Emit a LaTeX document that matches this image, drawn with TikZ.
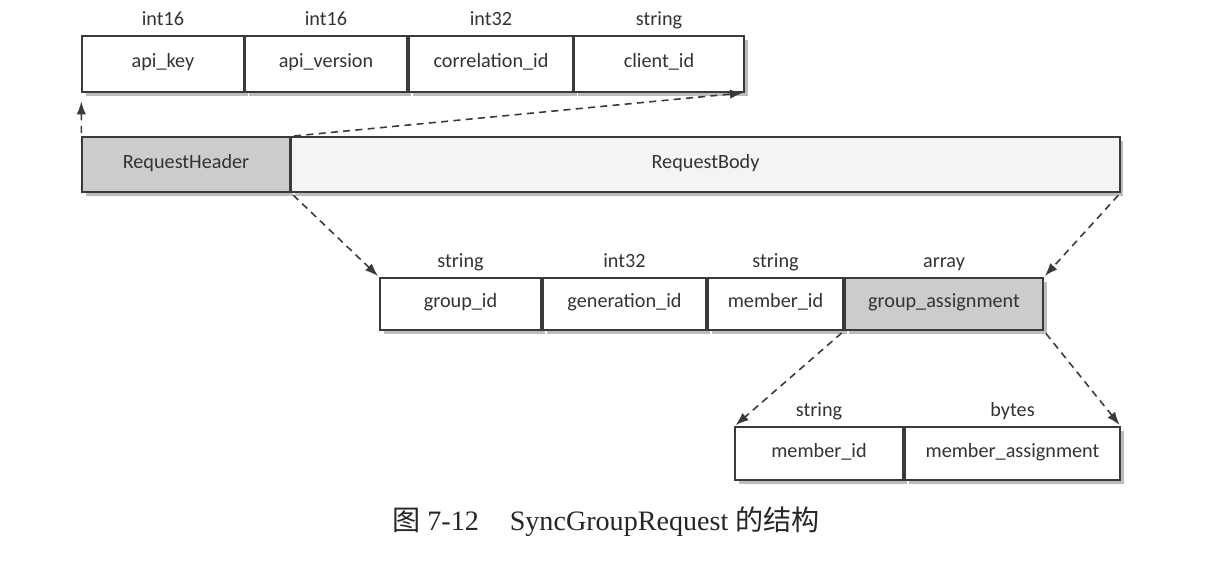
\documentclass[tikz,border=0pt]{standalone}
\usepackage{fontspec}
\setmainfont{Liberation Serif}
\setsansfont{Carlito}
\newfontfamily\cjk{Noto Sans CJK SC}
\usepackage{tikz}
\usetikzlibrary{arrows.meta,shadows}
\definecolor{fieldink}{HTML}{333333}
\definecolor{fieldline}{HTML}{3A3A3A}

\begin{document}
\begin{tikzpicture}[x=0.02cm,y=-0.02cm,>={Latex[length=2.6mm,width=1.9mm]},
  font=\sffamily\fontsize{11.5}{13}\selectfont,text=fieldink,
  field/.style={draw=fieldline,line width=0.8pt,fill=white,inner sep=0pt,
    text height=0.65em,text depth=0.2em,
    drop shadow={shadow xshift=2pt,shadow yshift=-2pt,opacity=.4,fill=black!65}},
  grey/.style={field,fill=gray!40},
  pale/.style={field,fill=gray!9},
  ftype/.style={label={[label distance=0.18cm,inner sep=0pt,text height=0.7em,text depth=0pt,
    font=\sffamily\fontsize{11.5}{13}\selectfont,text=fieldink]above:#1}},
  arr/.style={->,dashed,dash pattern=on 4pt off 3pt,fieldline,line width=0.9pt,shorten <=2pt,shorten >=1pt}]
\useasboundingbox (0,0) rectangle (1226,564);
\fill[white] (0,0) rectangle (1226,564);
% request header fields
\node[field,ftype=int16,minimum width=3.24cm,minimum height=1.12cm] (apikey) at (163,64) {api\_key};
\node[field,ftype=int16,minimum width=3.24cm,minimum height=1.12cm] (apiver) at (326,64) {api\_version};
\node[field,ftype=int32,minimum width=3.28cm,minimum height=1.12cm] (corrid) at (491,64) {correlation\_id};
\node[field,ftype=string,minimum width=3.40cm,minimum height=1.12cm] (clientid) at (659,64) {client\_id};
% header + body
\node[grey,minimum width=4.16cm,minimum height=1.10cm] (header) at (186,164.5) {RequestHeader};
\node[pale,minimum width=16.58cm,minimum height=1.10cm] (body) at (705.5,164.5) {RequestBody};
% request body fields
\node[field,ftype=string,minimum width=3.22cm,minimum height=1.04cm] (groupid) at (460.5,304) {group\_id};
\node[field,ftype=int32,minimum width=3.26cm,minimum height=1.04cm] (genid) at (624.5,304) {generation\_id};
\node[field,ftype=string,minimum width=2.70cm,minimum height=1.04cm] (memid) at (775.5,304) {member\_id};
\node[grey,ftype=array,minimum width=3.96cm,minimum height=1.04cm] (grpasg) at (944,304) {group\_assignment};
% group_assignment items
\node[field,ftype=string,minimum width=3.36cm,minimum height=1.06cm] (memid2) at (819,453.5) {member\_id};
\node[field,ftype=bytes,minimum width=4.30cm,minimum height=1.06cm] (memasg) at (1012.5,453.5) {member\_assignment};
\draw[arr,shorten >=5pt] (header.north west)--(apikey.south west);
\draw[arr] (header.north east)--(clientid.south east);
\draw[arr] (header.south east)--(groupid.north west);
\draw[arr] (body.south east)--(grpasg.north east);
\draw[arr] (grpasg.south west)--(memid2.north west);
\draw[arr] (grpasg.south east)--(memasg.north east);
\node[font=\rmfamily\fontsize{16}{19}\selectfont,text=black!85] (caption) at (606,522)
  {{\cjk 图} 7-12\hspace{1.1em}SyncGroupRequest {\cjk 的结构}};
\end{tikzpicture}
\end{document}
